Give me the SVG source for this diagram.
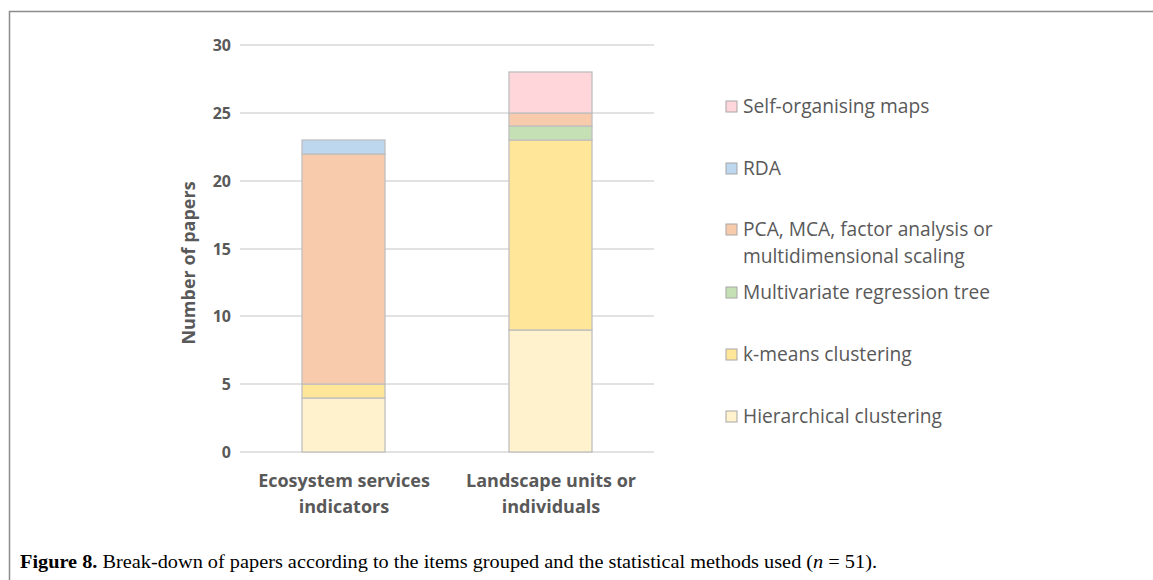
<svg xmlns="http://www.w3.org/2000/svg" width="1153" height="580" viewBox="0 0 1153 580">
<style>
.grid{stroke:#D9D9D9;stroke-width:1.5}
.tick{font-family:"Open Sans",Lato,sans-serif;font-weight:bold;font-size:16px;fill:#595959;text-anchor:end}
.cat{font-family:"Open Sans",Lato,sans-serif;font-weight:bold;font-size:18px;fill:#595959;text-anchor:middle}
.leg{font-family:"Open Sans",Lato,sans-serif;font-size:19.2px;fill:#595959}
.seg{stroke:#BFBFBF;stroke-width:1.3}
.sw{stroke:#A6A6A6;stroke-width:1}
.cap{font-family:"Liberation Serif",serif;font-size:18px;fill:#000}
</style>
<rect x="0" y="0" width="1153" height="580" fill="#fff"/>
<path d="M9.5 580 V11.5 H1153" fill="none" stroke="#8c8c8c" stroke-width="1.5"/>
<g id="grid">
<line class="grid" x1="240" y1="45" x2="654" y2="45"/>
<line class="grid" x1="240" y1="113" x2="654" y2="113"/>
<line class="grid" x1="240" y1="181" x2="654" y2="181"/>
<line class="grid" x1="240" y1="249" x2="654" y2="249"/>
<line class="grid" x1="240" y1="316" x2="654" y2="316"/>
<line class="grid" x1="240" y1="384" x2="654" y2="384"/>
<line class="grid" x1="240" y1="452" x2="654" y2="452"/>
</g>
<g id="ticks">
<text class="tick" x="231" y="51">30</text>
<text class="tick" x="231" y="119">25</text>
<text class="tick" x="231" y="187">20</text>
<text class="tick" x="231" y="255">15</text>
<text class="tick" x="231" y="322">10</text>
<text class="tick" x="231" y="390">5</text>
<text class="tick" x="231" y="458">0</text>
</g>
<text id="ylabel" transform="translate(195,263) rotate(-90)" class="cat" font-size="18.5">Number of papers</text>
<g id="bar1">
<rect class="seg" x="302" y="398" width="83" height="54" fill="#FFF2CC"/>
<rect class="seg" x="302" y="384" width="83" height="14" fill="#FFE699"/>
<rect class="seg" x="302" y="154" width="83" height="230" fill="#F8CBAD"/>
<rect class="seg" x="302" y="140" width="83" height="14" fill="#BDD7EE"/>
</g>
<g id="bar2">
<rect class="seg" x="509" y="330" width="83" height="122" fill="#FFF2CC"/>
<rect class="seg" x="509" y="140" width="83" height="190" fill="#FFE699"/>
<rect class="seg" x="509" y="126" width="83" height="14" fill="#C5E0B4"/>
<rect class="seg" x="509" y="113" width="83" height="13" fill="#F8CBAD"/>
<rect class="seg" x="509" y="72" width="83" height="41" fill="#FFD7DA"/>
</g>
<g id="categories">
<text class="cat" x="344" y="487">Ecosystem services</text>
<text class="cat" x="344" y="513">indicators</text>
<text class="cat" x="551" y="487">Landscape units or</text>
<text class="cat" x="551" y="513">individuals</text>
</g>
<g id="legend">
<rect class="sw" x="726" y="101" width="11" height="11" fill="#FFD7DA"/>
<text class="leg" x="743" y="113">Self-organising maps</text>
<rect class="sw" x="726" y="163" width="11" height="11" fill="#BDD7EE"/>
<text class="leg" x="743" y="175">RDA</text>
<rect class="sw" x="726" y="224" width="11" height="11" fill="#F8CBAD"/>
<text class="leg" x="743" y="236">PCA, MCA, factor analysis or</text>
<text class="leg" x="743" y="263">multidimensional scaling</text>
<rect class="sw" x="726" y="287" width="11" height="11" fill="#C5E0B4"/>
<text class="leg" x="743" y="299">Multivariate regression tree</text>
<rect class="sw" x="726" y="349" width="11" height="11" fill="#FFE699"/>
<text class="leg" x="743" y="361">k-means clustering</text>
<rect class="sw" x="726" y="411" width="11" height="11" fill="#FFF2CC"/>
<text class="leg" x="743" y="423">Hierarchical clustering</text>
</g>
<text id="caption" class="cap" x="20" y="568" textLength="857" lengthAdjust="spacingAndGlyphs"><tspan font-weight="bold">Figure 8.</tspan> Break-down of papers according to the items grouped and the statistical methods used (<tspan font-style="italic">n</tspan> = 51).</text>
</svg>
